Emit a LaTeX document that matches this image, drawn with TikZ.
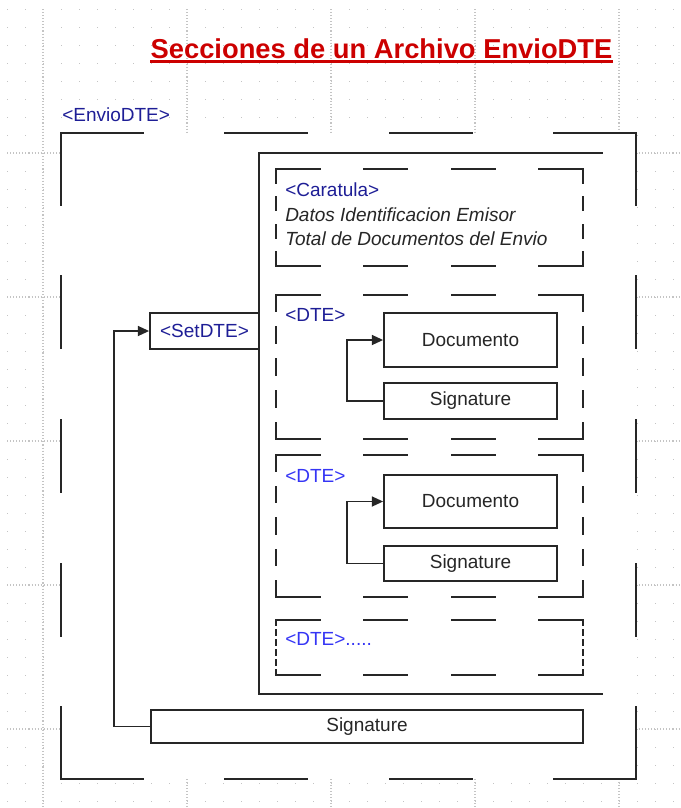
\documentclass[tikz,border=0pt]{standalone}
\usepackage{fontspec}
\setmainfont{Liberation Sans}
\usetikzlibrary{arrows.meta}
\definecolor{navy}{HTML}{1E1E96}
\definecolor{bblue}{HTML}{3535F5}
\definecolor{tred}{HTML}{CC0000}
\definecolor{ink}{HTML}{262626}
\definecolor{gridc}{HTML}{C4C4C4}
\newcommand\dseg[6]{%
  \foreach \k in {1,...,#5}{%
    \pgfmathsetmacro\ta{(2*\k-2)/(2*#5-1)}%
    \pgfmathsetmacro\tb{(2*\k-1)/(2*#5-1)}%
    \draw[#6] ({#1+(#3-#1)*\ta},{#2+(#4-#2)*\ta}) -- ({#1+(#3-#1)*\tb},{#2+(#4-#2)*\tb});
  }%
}
\newcommand\dashedrect[7]{%
  \dseg{#1}{#2}{#3}{#2}{#5}{#7}%
  \dseg{#1}{#4}{#3}{#4}{#5}{#7}%
  \dseg{#1}{#2}{#1}{#4}{#6}{#7}%
  \dseg{#3}{#2}{#3}{#4}{#6}{#7}%
}
\begin{document}
\begin{tikzpicture}[x=0.75pt,y=-0.75pt,
  edge/.style={ink, line width=1.3pt, line cap=rect},
  outedge/.style={ink, line width=1.6pt, line cap=rect},
  lbl/.style={font=\fontsize{14.25}{17}\selectfont, inner sep=0pt},
  itl/.style={font={\fontsize{14.25}{17}\selectfont\itshape}, inner sep=0pt, text=ink},
  box/.style 2 args={draw=ink, line width=1.3pt, fill=white, inner sep=0pt, lbl,
     minimum width={#1*0.75pt}, minimum height={#2*0.75pt}},
  conn/.style={ink, line width=1.3pt, -{Triangle[length=8.5pt,width=7.5pt]}},
  major/.style={gridc, line width=0.8pt, dash pattern=on 0.8pt off 1.5pt}]
\useasboundingbox (0,0) rectangle (681,808);
% background grid
\foreach \x in {7,25,...,673} \foreach \y in {9,27,...,801} \fill[gridc] (\x,\y) rectangle ++(1.3,1.3);
\foreach \x in {43,187,331,475,619} \draw[major] (\x,9) -- (\x,808);
\foreach \y in {153,297,441,585,729} \draw[major] (7,\y) -- (681,\y);
% title
\node[inner sep=0pt, text=tred, font=\fontsize{20.5}{24}\selectfont\bfseries, anchor=base] (title) at (381.5,58) {Secciones de un Archivo EnvioDTE};
\draw[tred, line width=1.8pt] ([yshift=-2.5pt]title.base west) -- ([yshift=-2.5pt]title.base east);
% outer EnvioDTE
\node[lbl, text=navy, anchor=west] (envio) at (62,115) {<EnvioDTE>};
\fill[white] (61,133) rectangle (636,779);
\dashedrect{61}{133}{636}{779}{4}{5}{outedge}
% SetDTE content
\draw[edge] (602,153) -- (259,153) -- (259,694) -- (602,694);
\dashedrect{276}{169}{583}{266}{4}{4}{edge}
\dashedrect{276}{295}{583}{439}{4}{5}{edge}
\dashedrect{276}{455}{583}{597}{4}{5}{edge}
\dashedrect{276}{620}{583}{675}{4}{6}{edge}
% caratula
\node[lbl, text=navy, anchor=west] (carat) at (285,190) {<Caratula>};
\node[itl, anchor=west] (datos) at (285,215) {Datos Identificacion Emisor};
\node[itl, anchor=west] (total) at (285,239) {Total de Documentos del Envio};
% DTE labels
\node[lbl, text=navy, anchor=west] (dte1) at (285,315) {<DTE>};
\node[lbl, text=bblue, anchor=west] (dte2) at (285,476) {<DTE>};
\node[lbl, text=bblue, anchor=west] (dte3) at (285,639) {<DTE>.....};
% boxes
\node[box={109}{36}, text=navy] (setdte) at (204.5,331) {<SetDTE>};
\node[box={173}{54}, text=ink] (doc1) at (470.5,340) {Documento};
\node[box={173}{36}, text=ink] (sig1) at (470.5,401) {Signature};
\node[box={173}{53}, text=ink] (doc2) at (470.5,501.5) {Documento};
\node[box={173}{35}, text=ink] (sig2) at (470.5,563.5) {Signature};
\node[box={432}{33}, text=ink] (sigb) at (367,726.5) {Signature};
% connectors
\draw[conn] (sig1.west) -- ++(-36,0) |- (doc1.west);
\draw[conn] (sig2.west) -- ++(-36,0) |- (doc2.west);
\draw[conn] (sigb.west) -- ++(-36,0) |- (setdte.west);
\end{tikzpicture}
\end{document}
